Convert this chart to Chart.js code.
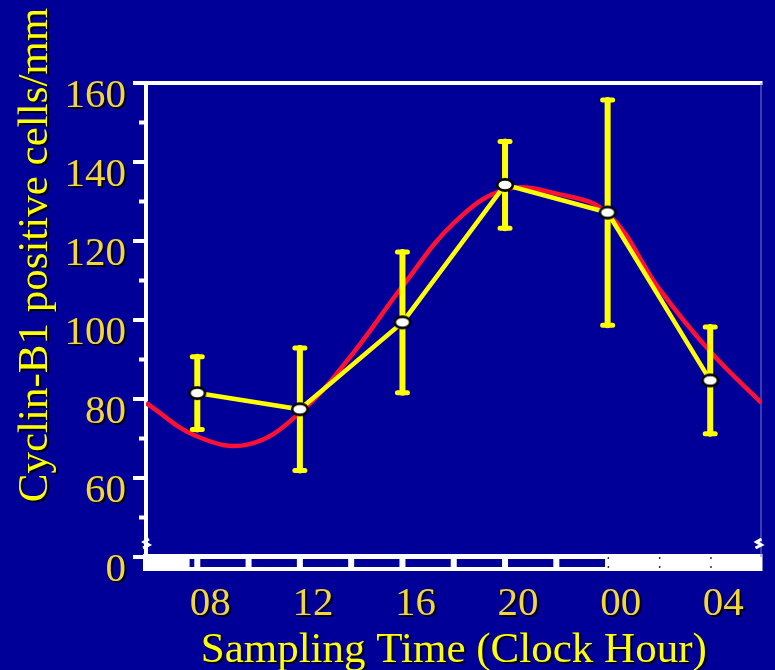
<!DOCTYPE html>
<html>
<head>
<meta charset="utf-8">
<script src="https://cdn.jsdelivr.net/npm/chart.js@4"></script>
<style>
  html, body { margin: 0; padding: 0; background: #000099; }
  canvas { display: block; }
</style>
</head>
<body>
<canvas id="cyclinChart" width="775" height="670"></canvas>
<script>
// measured points (mean +/- error)
let sampleHours = [8, 12, 16, 20, 24, 28];
let cellMeans = [81.5, 77.4, 99.4, 134.2, 127.2, 84.7];
let cellErrors = [9.2, 15.5, 17.8, 11, 28.5, 13.5];

// red fitted curve
let fitHours = [6, 8, 10, 12, 14, 16, 18, 20, 22, 24, 26, 28, 30];
let fitValues = [79, 70.5, 68.5, 76.5, 91, 108.5, 124.5, 133, 132, 127, 108, 92, 79];

let hourTicks = [8, 12, 16, 20, 24, 28];
let hourLabels = ["08", "12", "16", "20", "00", "04"];
// axis is broken: the lowest tick stands for 0
let countTicks = [40, 60, 80, 100, 120, 140, 160];
let countLabels = ["0", "60", "80", "100", "120", "140", "160"];

const serif = "'Liberation Serif', 'Times New Roman', serif";

// white ellipse marker
let marker = document.createElement("canvas");
marker.width = 22;
marker.height = 18;
let mctx = marker.getContext("2d");
mctx.beginPath();
mctx.ellipse(11, 9, 7.8, 5.6, 0, 0, Math.PI * 2);
mctx.fillStyle = "#ffffff";
mctx.fill();
mctx.lineWidth = 2.6;
mctx.strokeStyle = "#000000";
mctx.stroke();

let shadowPlugin = {
    id: "shadow",
    beforeDraw(chart) {
        let ctx = chart.ctx;
        ctx.save();
        ctx.shadowColor = "rgba(0,0,20,0.95)";
        ctx.shadowOffsetX = 2;
        ctx.shadowOffsetY = 2;
        ctx.shadowBlur = 0;
    },
    beforeDatasetsDraw(chart) {
        chart.ctx.restore();
    },
};

let framePlugin = {
    id: "frame",
    beforeDatasetsDraw(chart) {
        let ctx = chart.ctx;
        let { left, right, top, bottom } = chart.chartArea;
        let x = chart.scales.x;
        let y = chart.scales.y;
        ctx.save();
        // light/dark bar along the bottom
        ctx.fillStyle = "#ffffff";
        ctx.fillRect(left - 3, bottom - 3, right - left + 4, 17);
        ctx.fillStyle = "#000099";
        let start = x.getPixelForValue(7.7);
        let end = x.getPixelForValue(23.9);
        let cuts = [8, 10, 12, 14, 16, 18, 20, 22].map((h) => x.getPixelForValue(h));
        let segStart = start;
        cuts.forEach((c) => {
            ctx.fillRect(segStart, bottom + 2, c - 3 - segStart, 8);
            segStart = c + 3;
        });
        ctx.fillRect(segStart, bottom + 2, end - segStart, 8);
        ctx.fillStyle = "#333333";
        [24, 26, 28].forEach((h) => {
            let px = x.getPixelForValue(h);
            ctx.fillRect(px, bottom, 1.5, 2);
            ctx.fillRect(px, bottom + 9, 1.5, 2);
        });
        // frame
        ctx.fillStyle = "#ffffff";
        ctx.fillRect(left - 2, top - 2, 4, bottom + 14 - top);
        ctx.fillRect(left - 13, top - 2, right - left + 14, 4);
        ctx.fillStyle = "#7777cc";
        ctx.fillRect(right - 1, top, 1, bottom - top);
        // y ticks
        ctx.fillStyle = "#ffffff";
        countTicks.forEach((v, i) => {
            let py = y.getPixelForValue(v);
            ctx.fillRect(left - 13, py - 2, 13, 4);
            if (i < countTicks.length - 1) {
                let pm = y.getPixelForValue((v + countTicks[i + 1]) / 2);
                ctx.fillRect(left - 7, pm - 2, 7, 4);
            }
        });
        // axis break marks
        ctx.strokeStyle = "#ffffff";
        ctx.lineWidth = 3;
        [left, right - 3].forEach((bx) => {
            ctx.beginPath();
            ctx.moveTo(bx - 3, bottom - 9);
            ctx.lineTo(bx + 3, bottom - 12);
            ctx.lineTo(bx - 2, bottom - 15);
            ctx.lineTo(bx + 3, bottom - 18);
            ctx.stroke();
        });
        ctx.restore();
    },
    afterDatasetDraw(chart, args) {
        if (args.index !== 1) return;
        let ctx = chart.ctx;
        let x = chart.scales.x;
        let y = chart.scales.y;
        ctx.save();
        ctx.strokeStyle = "#ffff00";
        ctx.lineCap = "round";
        sampleHours.forEach((h, i) => {
            let px = x.getPixelForValue(h);
            let pt = y.getPixelForValue(cellMeans[i] + cellErrors[i]);
            let pb = y.getPixelForValue(cellMeans[i] - cellErrors[i]);
            ctx.lineWidth = 6;
            ctx.beginPath();
            ctx.moveTo(px, pt);
            ctx.lineTo(px, pb);
            ctx.stroke();
            ctx.lineWidth = 5;
            ctx.beginPath();
            ctx.moveTo(px - 5, pt);
            ctx.lineTo(px + 5, pt);
            ctx.moveTo(px - 5, pb);
            ctx.lineTo(px + 5, pb);
            ctx.stroke();
        });
        ctx.restore();
    },
    afterDraw(chart) {
        let ctx = chart.ctx;
        ctx.save();
        ctx.shadowColor = "rgba(0,0,20,0.95)";
        ctx.shadowOffsetX = 2;
        ctx.shadowOffsetY = 2;
        ctx.translate(47, 255);
        ctx.rotate(-Math.PI / 2);
        ctx.font = "43px " + serif;
        ctx.fillStyle = "#ffff00";
        ctx.textAlign = "center";
        ctx.textBaseline = "alphabetic";
        ctx.fillText("Cyclin-B1 positive cells/mm", 0, 0);
        ctx.restore();
    },
};

let ctx = document.getElementById("cyclinChart").getContext("2d");

let cyclinChart = new Chart(ctx, {
    type: "line",
    data: {
        datasets: [
            {
                label: "Cyclin-B1",
                data: sampleHours.map((h, i) => ({ x: h, y: cellMeans[i] })),
                borderColor: "#ffff00",
                borderWidth: 4.5,
                tension: 0,
                pointStyle: marker,
                pointRadius: 9,
            },
            {
                label: "Fit",
                data: fitHours.map((h, i) => ({ x: h, y: fitValues[i] })),
                borderColor: "#ff1133",
                borderWidth: 4.5,
                tension: 0.4,
                pointRadius: 0,
            },
        ],
    },
    options: {
        responsive: false,
        animation: false,
        layout: { padding: { left: 0, right: -3, top: 83, bottom: 0 } },
        plugins: {
            legend: { display: false },
            tooltip: { enabled: false },
        },
        scales: {
            x: {
                type: "linear",
                min: 6,
                max: 30,
                grid: { display: false, drawTicks: false },
                border: { display: false },
                afterBuildTicks: (scale) => {
                    scale.ticks = hourTicks.map((v) => ({ value: v }));
                },
                afterFit: (scale) => {
                    scale.height = 113;
                    scale.paddingLeft = 0;
                    scale.paddingRight = 0;
                },
                ticks: {
                    color: "#f2d63a",
                    font: { family: serif, size: 41 },
                    padding: 23,
                    labelOffset: 13,
                    maxRotation: 0,
                    callback: (v, i) => hourLabels[i],
                },
                title: {
                    display: true,
                    text: "Sampling Time (Clock Hour)",
                    color: "#ffff00",
                    font: { family: serif, size: 43, lineHeight: 0.9 },
                    padding: 0,
                },
            },
            y: {
                type: "linear",
                min: 40,
                max: 160,
                grid: { display: false, drawTicks: false },
                border: { display: false },
                afterBuildTicks: (scale) => {
                    scale.ticks = countTicks.map((v) => ({ value: v }));
                },
                afterFit: (scale) => {
                    scale.width = 146;
                },
                ticks: {
                    color: "#f2d63a",
                    font: { family: serif, size: 41 },
                    padding: 20,
                    labelOffset: 13,
                    callback: (v, i) => countLabels[i],
                },
            },
        },
    },
    plugins: [shadowPlugin, framePlugin],
});
</script>
</body>
</html>
